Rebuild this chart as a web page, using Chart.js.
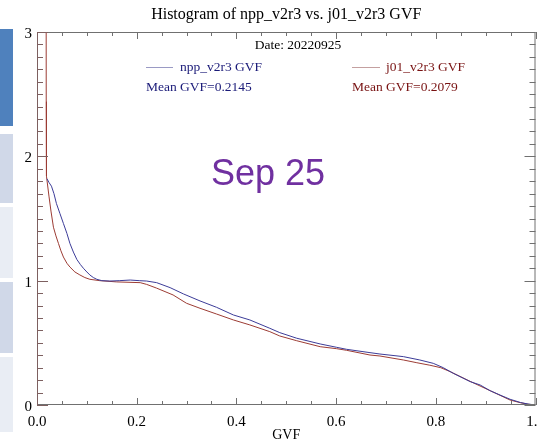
<!DOCTYPE html>
<html>
<head>
<meta charset="utf-8">
<title>GVF histogram</title>
<script src="https://cdn.jsdelivr.net/npm/chart.js@4.4.1/dist/chart.umd.min.js"></script>
<style>
  body { margin: 0; background: #fff; }
  #wrap { position: relative; width: 538px; height: 446px; }
  .side { position: absolute; left: 0; width: 13px; }
  #gvf-chart { position: absolute; left: 0; top: 0; }
</style>
</head>
<body>
<div id="wrap">
  <div class="side" style="top:29px;height:97px;background:#4f81bd;"></div>
  <div class="side" style="top:134px;height:69px;background:#d0d8e8;"></div>
  <div class="side" style="top:207px;height:71px;background:#e9edf4;"></div>
  <div class="side" style="top:282px;height:71px;background:#d0d8e8;"></div>
  <div class="side" style="top:357px;height:75px;background:#e9edf4;"></div>
  <canvas id="gvf-chart" width="538" height="446"></canvas>
</div>
<script>
// npp_v2r3 GVF histogram
const nppX = [0.020, 0.024, 0.029, 0.034, 0.039, 0.046, 0.053, 0.060, 0.066, 0.073, 0.080,
  0.087, 0.093, 0.100, 0.106, 0.113, 0.120, 0.130, 0.146, 0.165, 0.187, 0.205, 0.220, 0.240, 0.267,
  0.294, 0.327, 0.360, 0.394, 0.427, 0.467, 0.487, 0.521, 0.568, 0.601, 0.621, 0.668, 0.688, 0.735,
  0.768, 0.795, 0.815, 0.835, 0.869, 0.889, 0.909, 0.929, 0.949, 0.970, 0.985, 1.000];
const nppY = [1.82, 1.79, 1.76, 1.70, 1.62, 1.54, 1.46, 1.38, 1.30, 1.23, 1.17,
  1.13, 1.10, 1.07, 1.046, 1.025, 1.011, 1.0, 0.997, 1.0, 1.005, 1.0, 0.997, 0.984, 0.944,
  0.893, 0.837, 0.786, 0.724, 0.684, 0.617, 0.582, 0.537, 0.491, 0.464, 0.448, 0.421, 0.41, 0.389,
  0.362, 0.335, 0.30, 0.255, 0.188, 0.161, 0.115, 0.08, 0.046, 0.02, 0.008, 0.0];

// j01_v2r3 GVF histogram
const j01X = [0.018, 0.0185, 0.019, 0.024, 0.028, 0.033, 0.038, 0.043, 0.048, 0.053, 0.060, 0.066, 0.076,
  0.086, 0.096, 0.106, 0.126, 0.160, 0.207, 0.220, 0.240, 0.273, 0.300, 0.327, 0.360, 0.394, 0.427,
  0.467, 0.487, 0.521, 0.568, 0.601, 0.621, 0.668, 0.688, 0.735, 0.762, 0.788, 0.810, 0.829, 0.869,
  0.909, 0.949, 0.970, 0.985, 1.000];
const j01Y = [6.0, 2.44, 1.84, 1.68, 1.56, 1.43, 1.36, 1.30, 1.24, 1.19, 1.14, 1.11, 1.07,
  1.046, 1.025, 1.011, 1.0, 0.99, 0.984, 0.97, 0.94, 0.885, 0.818, 0.778, 0.732, 0.684, 0.644,
  0.59, 0.555, 0.517, 0.469, 0.453, 0.44, 0.402, 0.394, 0.362, 0.34, 0.32, 0.30, 0.268, 0.19,
  0.115, 0.04, 0.018, 0.006, 0.0];

const xTicks = [0.0, 0.2, 0.4, 0.6, 0.8, 1.0];
const yTicks = [0, 1, 2, 3];

const serif = '"Liberation Serif", "DejaVu Serif", serif';

function toPoints(xs, ys) {
    return xs.map(function (x, i) { return { x: x, y: ys[i] }; });
}

// IDL style box with inward tick marks on all four sides
const frameTicks = {
    id: 'frameTicks',
    afterDatasetsDraw: function (chart) {
        const ctx = chart.ctx;
        const a = chart.chartArea;
        const xs = chart.scales.x;
        const ys = chart.scales.y;
        ctx.save();
        ctx.lineWidth = 1;
        ctx.strokeStyle = '#707070';
        ctx.beginPath();
        ctx.moveTo(a.left, a.top + 0.5);
        ctx.lineTo(a.right, a.top + 0.5);
        ctx.moveTo(a.right - 0.5, a.top);
        ctx.lineTo(a.right - 0.5, a.bottom);
        ctx.moveTo(a.left, a.bottom - 0.5);
        ctx.lineTo(a.right, a.bottom - 0.5);
        for (let i = 0; i <= 20; i++) {
            const v = i * 0.05;
            const len = (i % 4 === 0) ? 7 : 4;
            const px = Math.round(xs.getPixelForValue(v)) + 0.5;
            ctx.moveTo(px, a.bottom);
            ctx.lineTo(px, a.bottom - len);
            ctx.moveTo(px, a.top);
            ctx.lineTo(px, a.top + len);
        }
        for (let j = 0; j <= 30; j++) {
            const v = j * 0.1;
            const len = (j % 10 === 0) ? 11 : 6;
            const py = Math.round(ys.getPixelForValue(v)) + 0.5;
            ctx.moveTo(a.right, py);
            ctx.lineTo(a.right - len, py);
        }
        ctx.stroke();
        // left axis is a bit brownish in the original
        ctx.strokeStyle = '#7d6060';
        ctx.beginPath();
        ctx.moveTo(a.left + 0.5, a.top);
        ctx.lineTo(a.left + 0.5, a.bottom);
        for (let j = 0; j <= 30; j++) {
            const v = j * 0.1;
            const len = (j % 10 === 0) ? 11 : 6;
            const py = Math.round(ys.getPixelForValue(v)) + 0.5;
            ctx.moveTo(a.left, py);
            ctx.lineTo(a.left + len, py);
        }
        ctx.stroke();
        ctx.restore();
    }
};

// date, legend entries, means and the big overlay label
const annotations = {
    id: 'annotations',
    afterDraw: function (chart) {
        const ctx = chart.ctx;
        ctx.save();
        ctx.textBaseline = 'middle';
        ctx.font = '13.5px ' + serif;
        ctx.fillStyle = '#000';
        ctx.textAlign = 'center';
        ctx.fillText('Date: 20220925', 298, 45);

        ctx.textAlign = 'left';
        ctx.lineWidth = 1;
        ctx.strokeStyle = '#9a9ac4';
        ctx.beginPath();
        ctx.moveTo(146, 67.5);
        ctx.lineTo(173, 67.5);
        ctx.stroke();
        ctx.fillStyle = '#1a1a78';
        ctx.fillText('npp_v2r3 GVF', 180, 67);
        ctx.fillText('Mean GVF=0.2145', 146, 87);

        ctx.strokeStyle = '#c4a0a0';
        ctx.beginPath();
        ctx.moveTo(352, 67.5);
        ctx.lineTo(380, 67.5);
        ctx.stroke();
        ctx.fillStyle = '#781212';
        ctx.fillText('j01_v2r3 GVF', 386, 67);
        ctx.fillText('Mean GVF=0.2079', 352, 87);

        ctx.font = '36px "Liberation Sans", Arial, sans-serif';
        ctx.fillStyle = '#7030a0';
        ctx.textBaseline = 'alphabetic';
        ctx.fillText('Sep 25', 211, 185);
        ctx.restore();
    }
};

document.addEventListener("DOMContentLoaded", function () {
    const canvas = document.getElementById('gvf-chart');
    new Chart(canvas.getContext('2d'), {
        type: 'line',
        data: {
            datasets: [{
                label: 'npp_v2r3 GVF',
                data: toPoints(nppX, nppY),
                borderColor: '#3c3c98',
                borderWidth: 1,
                pointRadius: 0,
                tension: 0
            }, {
                label: 'j01_v2r3 GVF',
                data: toPoints(j01X, j01Y),
                borderColor: '#9c3c34',
                borderWidth: 1,
                pointRadius: 0,
                tension: 0
            }]
        },
        options: {
            responsive: false,
            animation: false,
            layout: { padding: { left: 0, right: 2.5, top: 0, bottom: 0 } },
            plugins: {
                legend: { display: false },
                tooltip: { enabled: false },
                title: {
                    display: true,
                    fullSize: false,
                    text: 'Histogram of npp_v2r3 vs. j01_v2r3 GVF',
                    color: '#000',
                    font: { family: serif, size: 16, weight: 'normal' },
                    padding: { top: 5, bottom: 7.8 }
                }
            },
            scales: {
                x: {
                    type: 'linear',
                    min: 0,
                    max: 1,
                    grid: { display: false, drawTicks: false },
                    border: { display: false },
                    afterBuildTicks: function (scale) {
                        scale.ticks = xTicks.map(function (v) { return { value: v }; });
                    },
                    afterFit: function (scale) {
                        scale.height = 41;
                        scale.paddingLeft = 0;
                        scale.paddingRight = 0;
                    },
                    ticks: {
                        color: '#000',
                        padding: 8,
                        maxRotation: 0,
                        font: { family: serif, size: 15 },
                        callback: function (v) { return Number(v).toFixed(1); }
                    },
                    title: {
                        display: true,
                        text: 'GVF',
                        color: '#000',
                        font: { family: serif, size: 14 },
                        padding: { top: 0, bottom: 2 }
                    }
                },
                y: {
                    min: 0,
                    max: 3,
                    grid: { display: false, drawTicks: false },
                    border: { display: false },
                    afterBuildTicks: function (scale) {
                        scale.ticks = yTicks.map(function (v) { return { value: v }; });
                    },
                    afterFit: function (scale) {
                        scale.width = 37;
                        scale.paddingTop = 0;
                        scale.paddingBottom = 0;
                    },
                    ticks: {
                        color: '#000',
                        padding: 5,
                        labelOffset: 2,
                        font: { family: serif, size: 15 },
                        callback: function (v) { return String(v); }
                    }
                }
            }
        },
        plugins: [frameTicks, annotations]
    });
});
</script>
</body>
</html>
